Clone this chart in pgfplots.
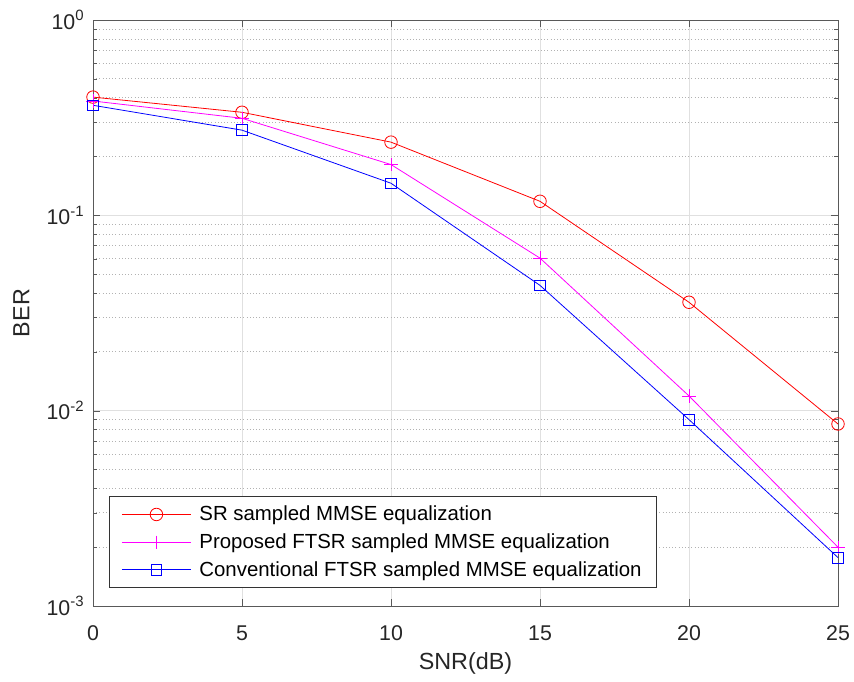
\documentclass[border=0pt]{standalone}
\usepackage{pgfplots}
\pgfplotsset{compat=1.18}
\usepackage{fontspec}
\setmainfont{Liberation Sans}
\definecolor{mymag}{rgb}{1,0,1}
\begin{document}
\begin{tikzpicture}[x=1pt,y=1pt]
\begin{axis}[
  scale only axis,
  width=558.75pt, height=439.5pt,
  ymode=log,
  xmin=0, xmax=25, ymin=1e-3, ymax=1,
  xtick={0,5,10,15,20,25},
  ytick={1e-3,1e-2,1e-1,1},
  yticklabels={10\textsuperscript{-3},10\textsuperscript{-2},10\textsuperscript{-1},10\textsuperscript{0}},
  /pgf/number format/assume math mode=true,
  tick label style={font=\fontsize{16}{18}\selectfont, color=black!85},
  xticklabel style={yshift=-11pt},
  yticklabel style={xshift=-3pt},
  label style={font=\fontsize{17.5}{19}\selectfont, color=black!85},
  xlabel={SNR(dB)}, ylabel={BER},
  xlabel style={yshift=-2pt},
  ylabel style={yshift=6pt},
  grid=both,
  major grid style={color=black!12, line width=0.6pt},
  minor grid style={color=black!30, dotted, line width=0.6pt},
  minor x tick num=0,
  tick align=inside,
  axis line style={color=black!65, line width=0.6pt},
  major tick style={color=black!65},
  minor tick style={color=black!65},
  major tick length=5pt, minor tick length=3pt,
  legend style={at={(0.0215,0.0307)}, anchor=south west, font=\fontsize{15.3}{17}\selectfont, draw=black!80, line width=0.6pt, fill=white, inner xsep=9pt, inner ysep=5pt, row sep=4.2pt, cells={anchor=west}},
  legend cell align=left,
  legend image code/.code={\draw[#1, line width=0.75pt] (0pt,0pt) -- (51.75pt,0pt); \draw[#1, mark repeat=2, mark phase=1] plot coordinates {(25.9pt,0pt)};},
]
\addplot[red, line width=0.6pt, mark=o, mark size=4.7pt, mark options={solid, line width=0.6pt}] coordinates {
(0,0.403) (5,0.337) (10,0.237) (15,0.118) (20,0.0359) (25,0.00855)};
\addlegendentry{\hspace{4pt}SR sampled MMSE equalization}
\addplot[mymag, line width=0.6pt, mark=+, mark size=5pt, mark options={solid, line width=0.6pt}] coordinates {
(0,0.385) (5,0.314) (10,0.182) (15,0.0604) (20,0.0119) (25,0.0020)};
\addlegendentry{\hspace{4pt}Proposed FTSR sampled MMSE equalization}
\addplot[blue, line width=0.6pt, mark=square, mark size=4pt, mark options={solid, line width=0.6pt}] coordinates {
(0,0.366) (5,0.273) (10,0.146) (15,0.0438) (20,0.0090) (25,0.00177)};
\addlegendentry{\hspace{4pt}Conventional FTSR sampled MMSE equalization}
\end{axis}
\pgfresetboundingbox
\path (current axis.south west) ++(-69.75pt,-56.25pt) coordinate (bl);
\path (current axis.north east) ++(12pt,15pt) coordinate (tr);
\useasboundingbox (bl) rectangle (tr);
\end{tikzpicture}
\end{document}
